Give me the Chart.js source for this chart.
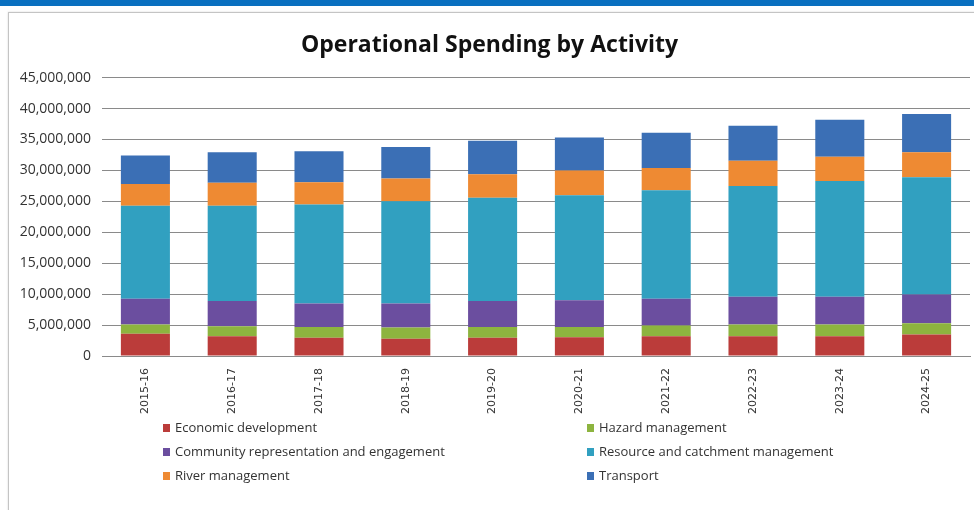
<!DOCTYPE html>
<html>
<head>
<meta charset="utf-8">
<title>Operational Spending by Activity</title>
<script src="https://cdn.jsdelivr.net/npm/chart.js@4/dist/chart.umd.min.js"></script>
<style>
  html, body { margin: 0; padding: 0; background: #fff; overflow: hidden; }
  body { width: 974px; height: 510px; position: relative; }
  .topbar { position: absolute; left: 0; top: 0; width: 974px; height: 6px; background: #0a70c0; }
  .frame { position: absolute; left: 8px; top: 12px; width: 980px; height: 520px; border: 1px solid #c4c4c4; box-shadow: 0 0 2px rgba(0,0,0,0.15); }
  .wrap { position: absolute; left: 9px; top: 13px; width: 965px; height: 497px; }
</style>
</head>
<body>
<div class="topbar"></div>
<div class="frame"></div>
<div class="wrap"><canvas id="chart"></canvas></div>
<script>
const years = ['2015-16', '2016-17', '2017-18', '2018-19', '2019-20', '2020-21', '2021-22', '2022-23', '2023-24', '2024-25'];

const economic  = [3600000, 3200000, 2950000, 2800000, 2950000, 3050000, 3200000, 3200000, 3200000, 3500000];
const hazard    = [1500000, 1600000, 1750000, 1800000, 1750000, 1650000, 1750000, 1900000, 1900000, 1800000];
const community = [4150000, 4100000, 3800000, 3900000, 4200000, 4300000, 4300000, 4500000, 4500000, 4650000];
const resource  = [15050000, 15400000, 16000000, 16500000, 16700000, 17000000, 17550000, 17900000, 18700000, 18950000];
const river     = [3500000, 3700000, 3600000, 3700000, 3800000, 4000000, 3600000, 4050000, 3900000, 4050000];
const transport = [4600000, 4950000, 5000000, 5100000, 5400000, 5300000, 5700000, 5650000, 6000000, 6150000];

const yTicks = [0, 5000000, 10000000, 15000000, 20000000, 25000000, 30000000, 35000000, 40000000, 45000000];

function series(label, data, color) {
    return {
        label: label,
        data: data,
        backgroundColor: color,
        borderWidth: 0,
        categoryPercentage: 1,
        barPercentage: 0.565
    };
}

// two-column legend under the axis, drawn from the datasets
const columnLegend = {
    id: 'columnLegend',
    afterDraw(c) {
        const ctx = c.ctx;
        const cols = [154, 578];
        const rows = [415, 439, 463];
        ctx.save();
        ctx.font = '13px "Open Sans"';
        ctx.textBaseline = 'middle';
        c.data.datasets.forEach((ds, i) => {
            const x = cols[i % 2];
            const y = rows[Math.floor(i / 2)];
            ctx.fillStyle = ds.backgroundColor;
            ctx.fillRect(x, y - 4, 7, 8);
            ctx.fillStyle = '#333';
            ctx.fillText(ds.label, x + 12, y);
        });
        ctx.restore();
    }
};

const chart = document.querySelector('#chart').getContext('2d');
new Chart(chart, {
    type: 'bar',
    data: {
        labels: years,
        datasets: [
            series('Economic development', economic, '#bb3c3a'),
            series('Hazard management', hazard, '#8db43f'),
            series('Community representation and engagement', community, '#6b4e9f'),
            series('Resource and catchment management', resource, '#31a0c0'),
            series('River management', river, '#ee8a33'),
            series('Transport', transport, '#3b6fb5')
        ]
    },
    options: {
        responsive: true,
        maintainAspectRatio: false,
        animation: false,
        layout: { padding: { top: 19, right: 4, bottom: 92, left: 0 } },
        plugins: {
            legend: { display: false },
            tooltip: { enabled: false },
            title: {
                display: true,
                text: 'Operational Spending by Activity',
                color: '#111',
                font: { family: '"Open Sans"', size: 23, weight: 'bold' },
                padding: { top: 0, bottom: 18 }
            }
        },
        scales: {
            x: {
                stacked: true,
                grid: { display: false },
                border: { display: true, color: '#8a8a8a', width: 1 },
                ticks: {
                    minRotation: 90,
                    maxRotation: 90,
                    padding: 4,
                    color: '#333',
                    font: { family: '"DejaVu Sans"', size: 11 }
                }
            },
            y: {
                stacked: true,
                min: 0,
                max: 45000000,
                afterBuildTicks(scale) {
                    scale.ticks = yTicks.map(v => ({ value: v }));
                },
                afterFit(scale) {
                    scale.width = 93;
                },
                grid: { color: '#8a8a8a', drawTicks: false },
                border: { display: false },
                ticks: {
                    padding: 11,
                    color: '#333',
                    font: { family: '"Open Sans"', size: 14 },
                    callback: v => v.toLocaleString('en-US')
                }
            }
        }
    },
    plugins: [columnLegend]
});
</script>
</body>
</html>
